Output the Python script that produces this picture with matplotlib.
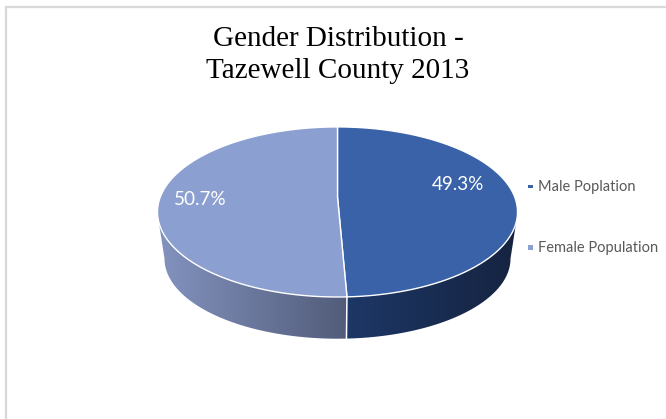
import numpy as np
import matplotlib
matplotlib.use("Agg")
import matplotlib.pyplot as plt
from matplotlib.patches import Polygon, Rectangle
from matplotlib.colors import LinearSegmentedColormap

title_lines = ["Gender Distribution -", "Tazewell County 2013"]
categories = ["Male Poplation", "Female Population"]
values = [49.3, 50.7]
top_colors = ["#3A62A9", "#8C9FD1"]
side_colors = [["#1D3766", "#15233F"], ["#8494C0", "#525C7A"]]

W, H = 666, 419
fig = plt.figure(figsize=(W / 100, H / 100), dpi=100, facecolor="white")
ax = fig.add_axes([0, 0, 1, 1])
ax.set_xlim(0, W)
ax.set_ylim(H, 0)
ax.axis("off")

# frame
ax.plot([5.5, 5.5, W], [H, 7, 7], color="#D9D9D9", lw=1.6, solid_joinstyle="miter")

# perspective disc geometry
cx, apex_y = 337.5, 197.0
a, b, k = 82.4, 177.2, 0.176


def project(theta):
    """theta clockwise from 12 o'clock on the unit disc -> picture coordinates."""
    u, v = np.sin(theta), np.cos(theta)
    d = 1 + k * v
    return cx + b * u / d, apex_y - a * v / d


fractions = np.cumsum([0] + values) / sum(values)
angles = 2 * np.pi * fractions
split_x, split_y = project(angles[1])

# side wall: lower half of the top rim, joined to the bottom rim
bot_cy, bot_rx, bot_ry = 258.7, 173.0, 80.0
rim_t = np.linspace(0, np.pi, 200)
bot_x = cx + bot_rx * np.cos(rim_t)
bot_y = bot_cy + bot_ry * np.sin(rim_t)

top_t = np.linspace(0, 2 * np.pi, 600)
tx, ty = project(top_t)
lower = (ty >= 222.0)
order = np.argsort(tx[lower])[::-1]
side_poly = np.column_stack([
    np.r_[tx[lower][order], bot_x[::-1]],
    np.r_[ty[lower][order], bot_y[::-1]],
])

for (x0, x1), cols in zip([(split_x, 520.0), (155.0, split_x)], side_colors):
    cmap = LinearSegmentedColormap.from_list("side", cols)
    im = ax.imshow(np.linspace(0, 1, 256)[None, :], cmap=cmap, aspect="auto",
                   extent=[x0, x1, 345, 205], zorder=1)
    clip = Polygon(side_poly, closed=True, transform=ax.transData, fc="none", ec="none")
    ax.add_patch(clip)
    im.set_clip_path(clip)
ax.set_xlim(0, W)
ax.set_ylim(H, 0)

# divider on side wall
ax.plot([split_x, split_x - 0.5], [split_y, 338.7], color="white", lw=1.1, zorder=2)

# top wedges
for i in range(len(values)):
    th = np.linspace(angles[i], angles[i + 1], 200)
    x, y = project(th)
    pts = np.column_stack([np.r_[cx, x], np.r_[apex_y, y]])
    ax.add_patch(Polygon(pts, closed=True, fc=top_colors[i], ec="white", lw=1.0,
                         joinstyle="round", zorder=3))

# value labels
label_pos = [(458, 184), (200, 199.5)]
for v, (lx, ly) in zip(values, label_pos):
    ax.text(lx, ly, f"{v}%", color="white", fontsize=13.6, family="Lato",
            ha="center", va="center", zorder=4)

# legend
leg_y = [186.5, 247.5]
leg_h = [3, 5]
for name, col, ly, lh in zip(categories, top_colors, leg_y, leg_h):
    ax.add_patch(Rectangle((528, ly - lh / 2), 5, lh, fc=col, ec="none", zorder=4))
    ax.text(538.5, ly, name, color="#595959", fontsize=10.5, family="Lato",
            ha="left", va="center")

# title
for line, ty_ in zip(title_lines, [38.5, 71.5]):
    ax.text(338, ty_, line, color="black", fontsize=21, family="Liberation Serif",
            ha="center", va="center")

fig.savefig("out.png", dpi=100, facecolor="white")
